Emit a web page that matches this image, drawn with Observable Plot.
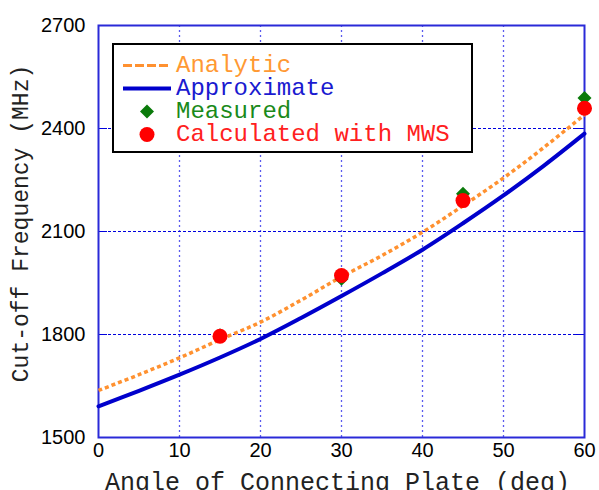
<!DOCTYPE html>
<html><head><meta charset="utf-8">
<script src="https://cdn.jsdelivr.net/npm/d3@7"></script>
<script src="https://cdn.jsdelivr.net/npm/@observablehq/plot@0.6"></script>
<style>
body{margin:0;background:#fff;}
#wrap{position:relative;width:599px;height:490px;}
.legend{position:absolute;left:112px;top:43px;width:361px;height:110px;box-sizing:border-box;border:2.5px solid #000;background:#fff;font-family:"Liberation Mono",monospace;font-size:24px;padding-top:9px;}
.row{display:flex;align-items:center;height:23px;line-height:23px;white-space:pre;}
.row svg{flex:none;margin-left:8px;margin-right:4px;}
.row span{display:inline-block;height:22px;line-height:22px;}
</style></head><body><div id="wrap"></div>
<script>
const analyticAngles = [0, 5, 10, 15, 20, 25, 30, 35, 40, 45, 50, 55, 60];
const analytic = [1637, 1683, 1732, 1785, 1836, 1900, 1968, 2030, 2098, 2175, 2256, 2345, 2440];
const approxAngles = [0, 5, 10, 15, 20, 25, 30, 35, 40, 45, 50, 55, 60];
const approx = [1591, 1636, 1683, 1733, 1787, 1848, 1912, 1978, 2047, 2124, 2205, 2292, 2385];
const markerAngles = [15, 30, 45, 60];
const measured = [1798, 1962, 2210, 2489];
const calculated = [1795, 1972, 2190, 2459];
const xTicks = [0, 10, 20, 30, 40, 50, 60];
const yTicks = [1500, 1800, 2100, 2400, 2700];
const seriesNames = ["Analytic", "Approximate", "Measured", "Calculated with MWS"];
const seriesColors = ["#ff9130", "#0000cc", "#0a7a0a", "#ff0000"];
const textColors = ["#ff9933", "#1a1ad0", "#1a8a1a", "#ff2020"];
const xLabel = "Angle of Connecting Plate (deg)";
const yLabel = "Cut-off Frequency (MHz)";

const analyticData = analyticAngles.map((a, i) => ({a, f: analytic[i]}));
const approxData = approxAngles.map((a, i) => ({a, f: approx[i]}));
const measuredData = markerAngles.map((a, i) => ({a, f: measured[i]}));
const calculatedData = markerAngles.map((a, i) => ({a, f: calculated[i]}));

const plot = Plot.plot({
  width: 599, height: 490,
  marginLeft: 98, marginRight: 15, marginTop: 25, marginBottom: 53,
  style: {fontFamily: "'Liberation Sans', Arial, sans-serif", fontSize: "20px", color: "#000", background: "#fff"},
  x: {domain: [0, 60]},
  y: {domain: [1500, 2700]},
  marks: [
    Plot.gridX(xTicks.slice(1, -1), {stroke: "#5a5aee", strokeOpacity: 1, strokeDasharray: "2,3", strokeWidth: 1.3}),
    Plot.gridY(yTicks.slice(1, -1), {stroke: "#0000dd", strokeOpacity: 1, strokeDasharray: "3,2", strokeWidth: 1}),
    Plot.axisX(xTicks, {tickSize: 0, tickPadding: 5, label: null, fontSize: 20, tickFormat: d => String(d)}),
    Plot.axisY(yTicks, {tickSize: 0, tickPadding: 13, label: null, fontSize: 20, tickFormat: d => String(d)}),
    Plot.axisY(yTicks.slice(1, -1), {anchor: "left", tickSize: -9, tickFormat: () => "", stroke: "#0000dd", label: null}),
    Plot.axisY(yTicks.slice(1, -1), {anchor: "right", tickSize: -9, tickFormat: () => "", stroke: "#0000dd", label: null}),
    Plot.frame({stroke: "#2a2ad8", strokeWidth: 2}),
    Plot.line(approxData, {x: "a", y: "f", stroke: seriesColors[1], strokeWidth: 4, curve: "catmull-rom"}),
    Plot.line(analyticData, {x: "a", y: "f", stroke: seriesColors[0], strokeWidth: 3.5, strokeDasharray: "4,3", strokeLinecap: "butt", curve: "catmull-rom"}),
    Plot.dot(measuredData, {x: "a", y: "f", symbol: "diamond2", r: 6.3, fill: seriesColors[2]}),
    Plot.dot(calculatedData, {x: "a", y: "f", r: 7.5, fill: seriesColors[3]}),
    Plot.text([xLabel], {frameAnchor: "bottom", textAnchor: "middle", lineAnchor: "bottom", dx: -4, dy: 52, fontFamily: "'Liberation Mono', monospace", fontSize: 25, fill: "#222"}),
    Plot.text([yLabel], {frameAnchor: "left", textAnchor: "middle", lineAnchor: "middle", rotate: -90, dx: -78, dy: -8, fontFamily: "'Liberation Mono', monospace", fontSize: 23, fill: "#222"})
  ]
});
const wrap = document.getElementById("wrap");
wrap.appendChild(plot);

// legend overlay
const legend = document.createElement("div");
legend.className = "legend";
seriesNames.forEach((name, i) => {
  const row = document.createElement("div");
  row.className = "row";
  const ns = "http://www.w3.org/2000/svg";
  const s = document.createElementNS(ns, "svg");
  s.setAttribute("width", 50); s.setAttribute("height", 23);
  if (i < 2) {
    const l = document.createElementNS(ns, "line");
    l.setAttribute("x1", 1); l.setAttribute("x2", 49); l.setAttribute("y1", 11.5); l.setAttribute("y2", 11.5);
    l.setAttribute("stroke", seriesColors[i]); l.setAttribute("stroke-width", i === 0 ? 3 : 4);
    if (i === 0) l.setAttribute("stroke-dasharray", "9,3");
    s.appendChild(l);
  } else if (i === 2) {
    const p = document.createElementNS(ns, "path");
    p.setAttribute("d", "M25,4.5L32,11.5L25,18.5L18,11.5Z");
    p.setAttribute("fill", seriesColors[i]);
    s.appendChild(p);
  } else {
    const c = document.createElementNS(ns, "circle");
    c.setAttribute("cx", 25); c.setAttribute("cy", 11.5); c.setAttribute("r", 7.5);
    c.setAttribute("fill", seriesColors[i]);
    s.appendChild(c);
  }
  row.appendChild(s);
  const t = document.createElement("span");
  t.textContent = name;
  t.style.color = textColors[i];
  row.appendChild(t);
  legend.appendChild(row);
});
wrap.appendChild(legend);
</script></body></html>
